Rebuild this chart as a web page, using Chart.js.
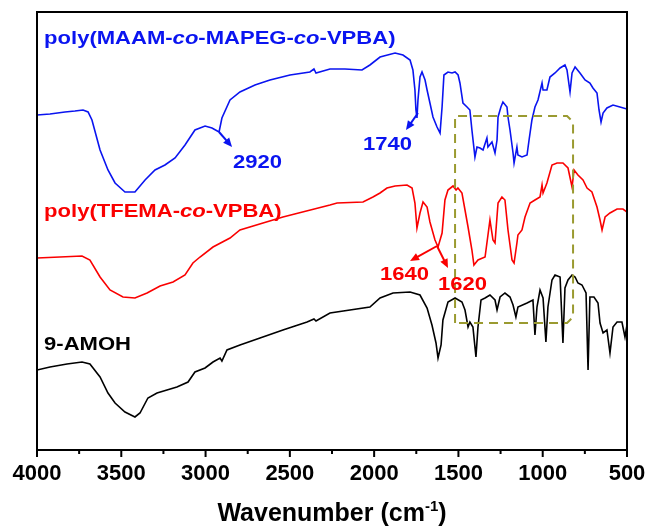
<!DOCTYPE html>
<html>
<head>
<meta charset="utf-8">
<script src="https://cdn.jsdelivr.net/npm/chart.js@4.4.1/dist/chart.umd.min.js"></script>
<style>
  body { margin: 0; background: #fff; }
</style>
</head>
<body>
<canvas id="grafico" width="647" height="528"></canvas>
<script>
// espectros FTIR (numero de onda en cm-1, transmitancia relativa)
const maamWn = [4000, 3923, 3834, 3775, 3727, 3697, 3674, 3626, 3579, 3537, 3478, 3419, 3359, 3300, 3241, 3181, 3122, 3063, 3003, 2962, 2920, 2903, 2855, 2796, 2707, 2618, 2499, 2381, 2357, 2345, 2262, 2173, 2072, 2025, 1965, 1876, 1829, 1787, 1770, 1758, 1752, 1746, 1740, 1728, 1716, 1698, 1686, 1669, 1651, 1627, 1609, 1597, 1586, 1562, 1538, 1520, 1502, 1491, 1473, 1449, 1432, 1420, 1402, 1390, 1372, 1354, 1331, 1325, 1301, 1283, 1271, 1265, 1248, 1236, 1212, 1206, 1194, 1176, 1170, 1153, 1147, 1123, 1093, 1081, 1064, 1046, 1028, 1004, 998, 975, 957, 927, 897, 868, 856, 838, 826, 808, 779, 749, 720, 702, 678, 666, 654, 642, 619, 583, 542, 500];
const maamT = [335, 336, 338, 339, 340, 338, 330, 300, 280, 267, 258, 258, 270, 280, 285, 292, 305, 320, 324, 322, 318, 332, 350, 358, 365, 370, 375, 378, 381, 377, 381, 381, 380, 385, 393, 397, 395, 390, 380, 360, 340, 332, 350, 373, 378, 370, 360, 347, 333, 323, 317, 343, 375, 378, 377, 378, 375, 367, 347, 343, 340, 320, 293, 303, 302, 300, 312, 303, 308, 297, 310, 333, 343, 348, 343, 333, 320, 297, 287, 303, 295, 293, 295, 310, 330, 343, 350, 367, 360, 360, 373, 377, 382, 385, 380, 358, 377, 383, 377, 370, 367, 362, 357, 340, 328, 337, 342, 345, 343, 341];

const tfemaWn = [4000, 3864, 3733, 3686, 3626, 3567, 3490, 3419, 3347, 3270, 3193, 3122, 3075, 3033, 2956, 2855, 2796, 2659, 2541, 2262, 2220, 2066, 2007, 1965, 1924, 1876, 1805, 1775, 1758, 1746, 1728, 1710, 1686, 1669, 1639, 1621, 1597, 1580, 1562, 1532, 1514, 1503, 1479, 1461, 1443, 1420, 1408, 1384, 1342, 1313, 1295, 1283, 1265, 1242, 1224, 1206, 1182, 1170, 1153, 1147, 1123, 1105, 1075, 1046, 1016, 1004, 998, 975, 945, 915, 880, 850, 826, 814, 791, 761, 737, 708, 678, 660, 648, 630, 601, 559, 524, 500];
const tfemaT = [192, 193, 194, 190, 173, 160, 153, 152, 157, 164, 168, 175, 187, 193, 203, 212, 220, 227, 233, 245, 247, 248, 253, 257, 262, 264, 265, 262, 247, 222, 237, 248, 243, 228, 210, 203, 217, 250, 260, 264, 260, 262, 257, 240, 223, 200, 185, 190, 193, 230, 210, 207, 247, 253, 250, 220, 190, 187, 207, 215, 220, 233, 247, 250, 253, 265, 257, 267, 285, 287, 287, 282, 263, 280, 275, 270, 262, 258, 243, 230, 220, 233, 237, 241, 241, 238];

const amohWn = [4000, 3923, 3822, 3733, 3686, 3626, 3579, 3537, 3478, 3419, 3389, 3342, 3288, 3229, 3170, 3104, 3063, 3003, 2956, 2914, 2903, 2873, 2796, 2677, 2541, 2398, 2357, 2345, 2262, 2025, 1965, 1888, 1787, 1728, 1686, 1657, 1633, 1621, 1603, 1592, 1562, 1520, 1479, 1461, 1443, 1432, 1414, 1396, 1384, 1366, 1342, 1313, 1283, 1271, 1253, 1224, 1194, 1176, 1159, 1147, 1093, 1058, 1046, 1034, 1016, 998, 981, 969, 945, 927, 897, 880, 868, 850, 826, 808, 791, 767, 743, 731, 720, 696, 672, 660, 642, 619, 601, 583, 559, 530, 512, 500];
const amohT = [80, 83, 86, 88, 86, 73, 57, 47, 38, 33, 37, 52, 57, 60, 63, 68, 78, 82, 88, 92, 89, 100, 105, 112, 120, 128, 131, 129, 137, 143, 152, 157, 158, 155, 142, 125, 107, 92, 105, 130, 148, 152, 148, 140, 123, 128, 123, 93, 123, 150, 152, 155, 150, 140, 153, 157, 153, 145, 133, 143, 147, 150, 115, 143, 160, 152, 108, 143, 170, 175, 173, 107, 162, 170, 175, 173, 167, 165, 157, 80, 153, 153, 147, 127, 117, 120, 97, 123, 128, 128, 113, 125];

const xTicks = [4000, 3500, 3000, 2500, 2000, 1500, 1000, 500];

const FUENTE = "'Liberation Sans', Arial, sans-serif";

function puntos(wn, t) {
    var data = [];
    for (var i = 0; i < wn.length; i++) {
        data.push({ x: wn[i], y: t[i] });
    }
    return data;
}

// texto con partes en cursiva, un poco ensanchado como en la figura
function textoRico(ctx, partes, x, y, color) {
    ctx.save();
    ctx.translate(x, y);
    ctx.scale(1.16, 1);
    ctx.fillStyle = color;
    ctx.textBaseline = 'middle';
    ctx.textAlign = 'left';
    var cx = 0;
    partes.forEach(function (p) {
        ctx.font = (p[1] ? 'italic ' : '') + 'bold 19px ' + FUENTE;
        ctx.fillText(p[0], cx, 0);
        cx += ctx.measureText(p[0]).width;
    });
    ctx.restore();
}

function flecha(ctx, x1, y1, x2, y2, color) {
    var ang = Math.atan2(y2 - y1, x2 - x1);
    var L = 9, W = 4;
    ctx.save();
    ctx.strokeStyle = color;
    ctx.fillStyle = color;
    ctx.lineWidth = 2;
    ctx.beginPath();
    ctx.moveTo(x1, y1);
    ctx.lineTo(x2 - L * 0.6 * Math.cos(ang), y2 - L * 0.6 * Math.sin(ang));
    ctx.stroke();
    ctx.beginPath();
    ctx.moveTo(x2, y2);
    ctx.lineTo(x2 - L * Math.cos(ang) + W * Math.sin(ang), y2 - L * Math.sin(ang) - W * Math.cos(ang));
    ctx.lineTo(x2 - L * Math.cos(ang) - W * Math.sin(ang), y2 - L * Math.sin(ang) + W * Math.cos(ang));
    ctx.closePath();
    ctx.fill();
    ctx.restore();
}

const decoraciones = {
    id: 'decoraciones',
    afterDatasetsDraw(chart) {
        const ctx = chart.ctx, sx = chart.scales.x, sy = chart.scales.y, a = chart.chartArea;
        const X = function (v) { return sx.getPixelForValue(v); };
        const Y = function (v) { return sy.getPixelForValue(v); };

        // recuadro punteado
        var l = X(1520), r = X(820), t = Y(334), b = Y(127), c = 6;
        ctx.save();
        ctx.strokeStyle = '#9a9a30';
        ctx.lineWidth = 2;
        ctx.setLineDash([9, 6]);
        ctx.beginPath();
        ctx.moveTo(l, b);
        ctx.lineTo(l, t);
        ctx.lineTo(r - c, t);
        ctx.lineTo(r, t + c);
        ctx.lineTo(r, b - c);
        ctx.lineTo(r - c, b);
        ctx.closePath();
        ctx.stroke();
        ctx.restore();

        // marco
        ctx.save();
        ctx.strokeStyle = '#000';
        ctx.lineWidth = 2;
        ctx.strokeRect(a.left, a.top, a.right - a.left, a.bottom - a.top);
        // marcas del eje x
        ctx.beginPath();
        for (var v = 500; v <= 4000; v += 250) {
            var px = X(v);
            ctx.moveTo(px, a.bottom);
            ctx.lineTo(px, a.bottom + (v % 500 === 0 ? 7 : 4));
        }
        ctx.stroke();

        // titulo del eje con superindice
        ctx.fillStyle = '#000';
        ctx.textBaseline = 'alphabetic';
        ctx.textAlign = 'left';
        var f1 = 'bold 25px ' + FUENTE, f2 = 'bold 15px ' + FUENTE;
        ctx.font = f1;
        var w1 = ctx.measureText('Wavenumber (cm').width, w3 = ctx.measureText(')').width;
        ctx.font = f2;
        var w2 = ctx.measureText('-1').width;
        var x0 = (a.left + a.right) / 2 - (w1 + w2 + w3) / 2, yb = 521;
        ctx.font = f1;
        ctx.fillText('Wavenumber (cm', x0, yb);
        ctx.font = f2;
        ctx.fillText('-1', x0 + w1, yb - 10);
        ctx.font = f1;
        ctx.fillText(')', x0 + w1 + w2, yb);
        ctx.restore();

        // etiquetas
        const azul = 'rgb(10,20,240)', rojo = 'rgb(250,0,0)';
        textoRico(ctx, [['poly(MAAM-', false], ['co', true], ['-MAPEG-', false], ['co', true], ['-VPBA)', false]], X(3958), Y(411), azul);
        textoRico(ctx, [['2920', false]], X(2837), Y(287), azul);
        textoRico(ctx, [['1740', false]], X(2066), Y(305), azul);
        textoRico(ctx, [['poly(TFEMA-', false], ['co', true], ['-VPBA)', false]], X(3958), Y(238), rojo);
        textoRico(ctx, [['1640', false]], X(1965), Y(175), rojo);
        textoRico(ctx, [['1620', false]], X(1621), Y(165), rojo);
        textoRico(ctx, [['9-AMOH', false]], X(3958), Y(105), '#000');

        flecha(ctx, X(2920), Y(318), X(2843), Y(303), azul);
        flecha(ctx, X(1740), Y(337), X(1811), Y(320), azul);
        flecha(ctx, X(1627), Y(204), X(1787), Y(189), rojo);
        flecha(ctx, X(1627), Y(204), X(1562), Y(182), rojo);
    }
};

new Chart(document.getElementById('grafico'), {
    type: 'line',
    data: {
        datasets: [
            { label: 'poly(MAAM-co-MAPEG-co-VPBA)', data: puntos(maamWn, maamT), borderColor: 'rgb(10,20,240)' },
            { label: 'poly(TFEMA-co-VPBA)', data: puntos(tfemaWn, tfemaT), borderColor: 'rgb(250,0,0)' },
            { label: '9-AMOH', data: puntos(amohWn, amohT), borderColor: '#000' }
        ]
    },
    options: {
        responsive: false,
        animation: false,
        layout: { padding: { left: 37, right: 20, top: 12, bottom: 0 } },
        elements: {
            line: { borderWidth: 1.6, tension: 0, fill: false },
            point: { radius: 0 }
        },
        plugins: {
            legend: { display: false },
            tooltip: { enabled: false }
        },
        scales: {
            x: {
                type: 'linear',
                reverse: true,
                min: 500,
                max: 4000,
                afterBuildTicks: function (scale) {
                    scale.ticks = xTicks.map(function (v) { return { value: v }; });
                },
                afterFit: function (scale) {
                    scale.height = 78;
                    scale.paddingLeft = 0;
                    scale.paddingRight = 0;
                },
                grid: { display: false, drawTicks: false },
                border: { display: false },
                ticks: {
                    padding: 11,
                    color: '#000',
                    maxRotation: 0,
                    autoSkip: false,
                    font: { family: FUENTE, size: 22, weight: 'bold' },
                    callback: function (v) { return String(v); }
                }
            },
            y: {
                display: false,
                min: 0,
                max: 438
            }
        }
    },
    plugins: [decoraciones]
});
</script>
</body>
</html>
